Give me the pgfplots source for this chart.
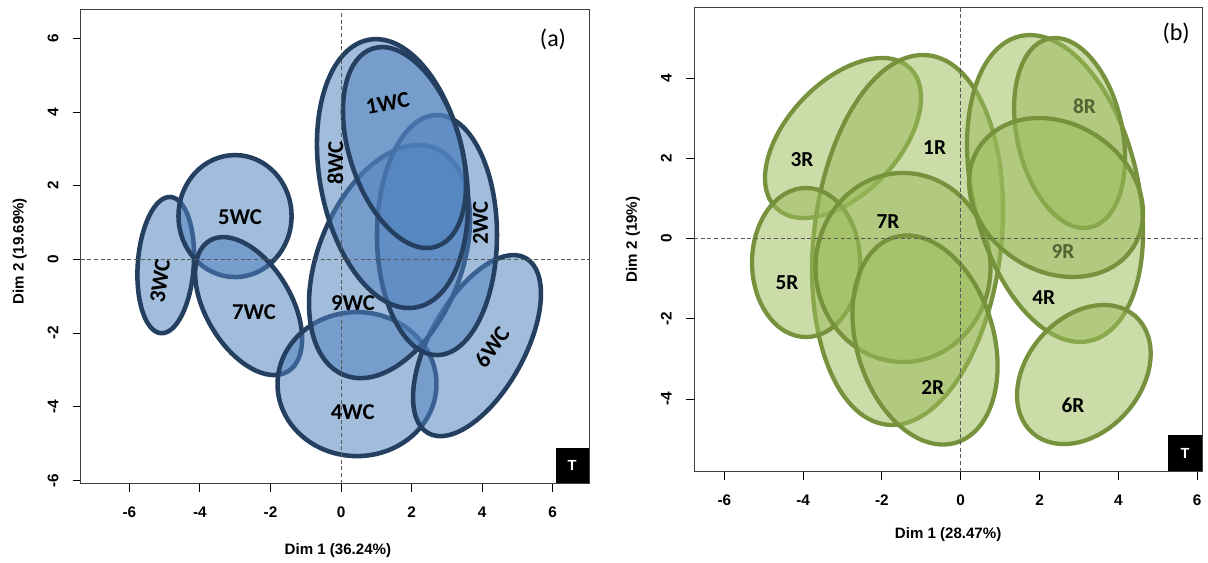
\documentclass[border=0pt]{standalone}
\usepackage{fontspec}
\setmainfont{Liberation Sans}
\newfontfamily\carl{Carlito}
\usepackage{pgfplots}
\pgfplotsset{compat=1.18}
\definecolor{bfill}{HTML}{4F81BD}
\definecolor{bline}{HTML}{243F60}
\definecolor{gfill}{HTML}{9BBB59}
\definecolor{gline}{HTML}{76923C}
\definecolor{gtxt}{RGB}{84,98,52}
% ellipse: cx, cy (data), semi-axis a, b (pt), angle (deg), style
\newcommand{\Ell}[6]{\draw[#6] (axis cs:#1,#2) ellipse[x radius=#3pt, y radius=#4pt, rotate=#5];}
\pgfplotsset{
 pca/.style={
  scale only axis, width=381.2pt,
  axis line style={draw=black!75, line width=0.7pt},
  tick align=outside, xtick pos=left, ytick pos=left,
  major tick length=6pt,
  tick style={black, line width=0.7pt},
  /pgf/number format/assume math mode=true,
  tick label style={font=\fontsize{11.5}{13}\selectfont\bfseries},
  yticklabel style={rotate=90, anchor=south, inner sep=0pt, yshift=10.5pt},
  xticklabel style={anchor=north, inner sep=0pt, yshift=-11pt},
  label style={font=\fontsize{11.3}{13}\selectfont\bfseries},
  xtick={-6,-4,...,6}, ytick={-6,-4,...,6},
  clip=false,
 },
}
\tikzset{
 bell/.style={fill=bfill, fill opacity=0.53, draw=bline, draw opacity=1, line width=3.4pt},
 gell/.style={fill=gfill, fill opacity=0.52, draw=gline, draw opacity=1, line width=3.2pt},
 blab/.style={font=\carl\bfseries\fontsize{17}{17}\selectfont, text=black},
 glab/.style={font=\carl\bfseries\fontsize{16}{16}\selectfont, text=black},
 zero/.style={densely dashed, draw=black!65, line width=0.6pt},
}
\begin{document}
\begin{tikzpicture}
\useasboundingbox (0,0) rectangle (906pt,421.5pt);
% ---------------- panel (a)
\begin{axis}[pca, at={(60.53pt,58.73pt)}, anchor=south west, height=355.8pt,
  xmin=-7.38, xmax=7.03, ymin=-6.09, ymax=6.79,
  xlabel={Dim 1 (36.24\%)}, ylabel={Dim 2 (19.69\%)},
  xlabel style={at={(axis description cs:0.506,-0.14)}, anchor=center},
  ylabel style={at={(axis description cs:-0.12,0.49)}, anchor=center}]
\Ell{-4.969}{-0.155}{51.2}{21}{86}{bell}
\Ell{-3.005}{1.176}{42.4}{45.75}{0}{bell}
\Ell{-2.619}{-1.268}{57.15}{31.95}{-59.2}{bell}
\Ell{0.4535}{-3.386}{59.6}{54}{0}{bell}
\Ell{3.855}{-2.341}{75.15}{35.55}{60.9}{bell}
\Ell{1.375}{-0.060}{91.65}{53.7}{68.2}{bell}
\Ell{2.721}{0.660}{45}{90}{0}{bell}
\Ell{1.460}{2.330}{101.9}{54.7}{-80.1}{bell}
\Ell{1.800}{3.036}{78}{41.5}{-72.2}{bell}
\draw[zero] (axis cs:0,-6.09) -- (axis cs:0,6.79);
\draw[zero] (axis cs:-7.38,0) -- (axis cs:7.03,0);
\node[blab, rotate=10] at (axis cs:1.321,4.244) {1WC};
\node[blab, rotate=90] at (axis cs:-0.162,2.615) {8WC};
\node[blab, rotate=90] at (axis cs:3.957,0.986) {2WC};
\node[blab] at (axis cs:0.340,-1.187) {9WC};
\node[blab] at (axis cs:0.329,-4.138) {4WC};
\node[blab, rotate=55] at (axis cs:4.280,-2.381) {6WC};
\node[blab] at (axis cs:-2.863,1.149) {5WC};
\node[blab] at (axis cs:-2.466,-1.431) {7WC};
\node[blab, rotate=82] at (axis cs:-5.130,-0.589) {3WC};
\node[font=\carl\fontsize{18}{18}\selectfont] at (axis cs:6.01,5.98) {(a)};
\node[fill=black, text=white, font=\fontsize{11}{11}\selectfont\bfseries, anchor=south east,
  minimum width=24.75pt, minimum height=26.25pt, inner sep=0pt] at (rel axis cs:1,0) {T};
\end{axis}
% ---------------- panel (b)
\begin{axis}[pca, at={(520.5pt,67.73pt)}, anchor=south west, height=348.3pt,
  xmin=-6.77, xmax=6.13, ymin=-5.81, ymax=5.77, ytick={-4,-2,...,4},
  xlabel={Dim 1 (28.47\%)}, ylabel={Dim 2 (19\%)},
  xlabel style={at={(axis description cs:0.5,-0.136)}, anchor=center},
  ylabel style={at={(axis description cs:-0.12,0.5)}, anchor=center}]
\Ell{-2.988}{2.511}{72.6}{41.85}{46.45}{gell}
\Ell{-1.351}{-0.032}{139.4}{70.35}{83.6}{gell}
\Ell{-3.927}{-0.594}{40.5}{55.9}{0}{gell}
\Ell{-1.465}{-0.718}{65.6}{70.9}{0}{gell}
\Ell{-0.906}{-2.526}{80.4}{51.4}{-73.2}{gell}
\Ell{2.394}{1.252}{117.2}{62.1}{-77}{gell}
\Ell{3.125}{-3.387}{58.35}{42.75}{48.8}{gell}
\Ell{2.762}{2.636}{72.45}{39.5}{-77.6}{gell}
\Ell{2.419}{1.027}{68.85}{55.4}{-32.6}{gell}
\draw[zero] (axis cs:0,-5.81) -- (axis cs:0,5.77);
\draw[zero] (axis cs:-6.77,0) -- (axis cs:6.13,0);
\node[glab] at (axis cs:-4.030,1.963) {3R};
\node[glab] at (axis cs:-0.663,2.262) {1R};
\node[glab] at (axis cs:-1.846,0.416) {7R};
\node[glab] at (axis cs:-4.410,-1.105) {5R};
\node[glab] at (axis cs:-0.711,-3.723) {2R};
\node[glab] at (axis cs:2.105,-1.479) {4R};
\node[glab, text=gtxt] at (axis cs:2.597,-0.332) {9R};
\node[glab, text=gtxt] at (axis cs:3.140,3.309) {8R};
\node[glab] at (axis cs:2.851,-4.147) {6R};
\node[font=\carl\fontsize{18}{18}\selectfont] at (axis cs:5.466,5.13) {(b)};
\node[fill=black, text=white, font=\fontsize{11}{11}\selectfont\bfseries, anchor=south east,
  minimum width=25.5pt, minimum height=27pt, inner sep=0pt] at (rel axis cs:1,0) {T};
\end{axis}
\end{tikzpicture}
\end{document}
